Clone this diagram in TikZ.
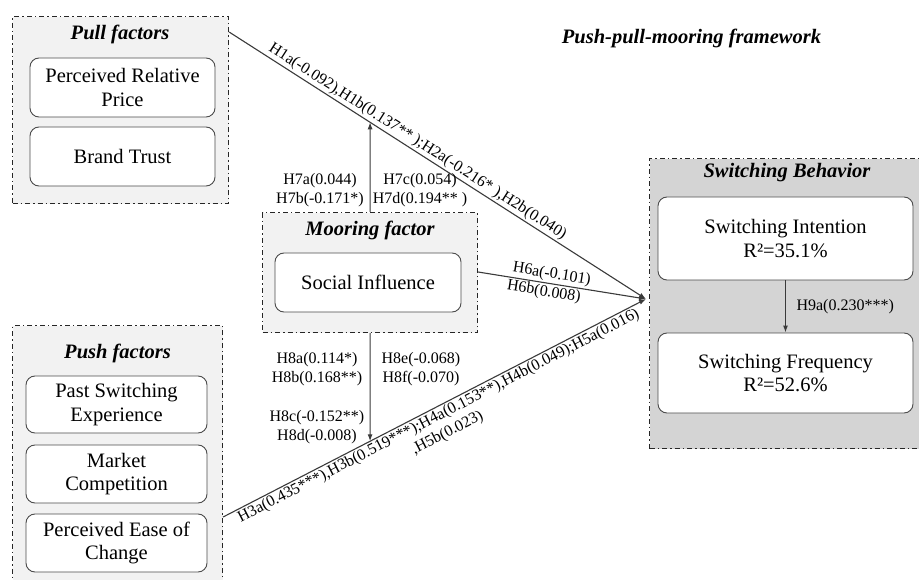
\documentclass[tikz,border=0pt]{standalone}
\usepackage{fontspec}
\setmainfont{Liberation Serif}
\usetikzlibrary{arrows.meta,positioning}
\definecolor{groupgray}{HTML}{F2F2F2}
\definecolor{outcomegray}{HTML}{D4D4D4}
\definecolor{linegray}{HTML}{3A3A3A}

\begin{document}
\begin{tikzpicture}[x=1pt, y=-1pt,
  groupbox/.style={draw=black!85, line width=1.1pt,
               dash pattern=on 5pt off 3pt on 1.5pt off 3pt,
               fill=groupgray, anchor=north west, inner sep=0pt},
  factor/.style={draw=black!70, line width=0.9pt, rounded corners=9pt, fill=white,
               align=center, inner sep=0pt, font=\fontsize{20.5}{23.5}\selectfont},
  grouptitle/.style={font=\fontsize{20.5}{24}\selectfont\bfseries\itshape},
  coef/.style={font=\fontsize{16}{19}\selectfont, inner sep=1.5pt, align=center},
  effect/.style={draw=linegray, line width=1.1pt, -{Latex[length=7pt,width=5pt]}},
]
  \useasboundingbox (0,0) rectangle (919,580);
  \clip (0,0) rectangle (919,580);

  % group frames
  \node[groupbox, minimum width=216pt, minimum height=187pt] (pull) at (12,16) {};
  \node[groupbox, minimum width=210pt, minimum height=262pt] (push) at (12,325) {};
  \node[groupbox, minimum width=215pt, minimum height=120pt] (mooring) at (262,212) {};
  \node[groupbox, fill=outcomegray, minimum width=275pt, minimum height=290pt] (sb) at (649,158) {};

  % titles
  \node[grouptitle] (pulltitle) at (120,34) {Pull factors};
  \node[grouptitle] (pushtitle) at (117.5,353) {Push factors};
  \node[grouptitle] (moortitle) at (370,230) {Mooring factor};
  \node[grouptitle] (sbtitle) at (787,173) {Switching Behavior};
  \node[grouptitle] (frametitle) at (691.5,38) {Push-pull-mooring framework};

  % pull factors
  \node[factor, minimum width=185pt, minimum height=59pt] (price) at (122.5,87.5)
        {Perceived Relative\\Price};
  \node[factor, minimum width=185pt, minimum height=59pt] (trust) at (122.5,156.5)
        {Brand Trust};

  % push factors
  \node[factor, minimum width=181pt, minimum height=57pt] (past) at (116.5,404.5)
        {Past Switching\\Experience};
  \node[factor, minimum width=181pt, minimum height=58pt] (market) at (116.5,474)
        {Market\\Competition};
  \node[factor, minimum width=181pt, minimum height=58pt] (ease) at (116.5,543)
        {Perceived Ease of\\Change};

  % mooring factor
  \node[factor, minimum width=186pt, minimum height=59pt] (social) at (368,282.5)
        {Social Influence};

  % switching behavior
  \node[factor, minimum width=255pt, minimum height=83pt] (intent) at (785.5,238.5)
        {Switching Intention\\R²=35.1\%};
  \node[factor, minimum width=255pt, minimum height=80pt] (freq) at (785.5,373)
        {Switching Frequency\\R²=52.6\%};

  % connection points
  \coordinate (hub) at (646,299);
  \coordinate (pullout) at (pull.east |- 0,32);
  \coordinate (pushout) at (push.east |- 0,517);
  \coordinate (moorout) at (mooring.east |- 0,272);

  % main paths
  \draw[effect] (pullout) -- node[coef, sloped, above, pos=0.44]
        {H1a(-0.092),H1b(0.137** );H2a(-0.216* ),H2b(0.040)} (hub);
  \draw[effect] (pushout) -- node[coef, sloped, below, pos=0.5]
        {H3a(0.435***),H3b(0.519***);H4a(0.153**),H4b(0.049);H5a(0.016)\\,H5b(0.023)} (hub);
  \draw[effect] (moorout) -- node[coef, sloped, above, pos=0.43] {H6a(-0.101)}
        node[coef, sloped, below, pos=0.40] {H6b(0.008)} (hub);

  % moderation
  \draw[effect] (mooring.north) -- (intersection of pullout--hub and mooring.north--mooring.south);
  \draw[effect] (mooring.south) -- (intersection of pushout--hub and mooring.north--mooring.south);
  \node[coef] (h7left) at (320,190.5) {H7a(0.044)\\H7b(-0.171*)};
  \node[coef] (h7right) at (420,190.5) {H7c(0.054)\\H7d(0.194** )};
  \node[coef] (h8left) at (317,369.5) {H8a(0.114*)\\H8b(0.168**)};
  \node[coef] (h8right) at (421,369.5) {H8e(-0.068)\\H8f(-0.070)};
  \node[coef] (h8low) at (317,427.5) {H8c(-0.152**)\\H8d(-0.008)};

  % intention -> frequency
  \draw[effect] (intent) -- node[coef, right=9pt] {H9a(0.230***)} (freq);

\end{tikzpicture}
\end{document}
